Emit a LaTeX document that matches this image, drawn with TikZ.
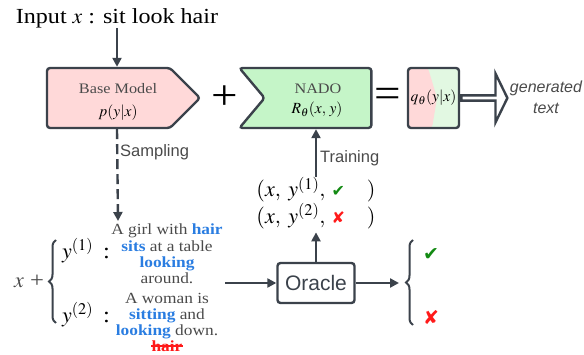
\documentclass[tikz,border=0pt]{standalone}
\usepackage{mathptmx}
\usepackage{fontspec}
\setmainfont[FakeStretch=1.12]{Liberation Serif}
\setsansfont{Liberation Sans}
\newfontfamily\marksfont{DejaVu Sans}
\usetikzlibrary{arrows.meta,positioning,shapes.symbols,shapes.arrows,decorations.pathreplacing}

\definecolor{linegray}{HTML}{3B424B}
\definecolor{textgray}{HTML}{4A4A4A}
\definecolor{basepink}{HTML}{FFD9D9}
\definecolor{nadogreen}{HTML}{C5F5C8}
\definecolor{qgreen}{HTML}{E2F8E2}
\definecolor{wordblue}{HTML}{2A7DE1}
\definecolor{okgreen}{HTML}{138A13}
\definecolor{badred}{HTML}{FF1A1A}

\newcommand{\hlword}[1]{\textbf{\color{wordblue}#1}}

\begin{document}
\begin{tikzpicture}[%
      x=1pt, y=-1pt,
      every node/.style={inner sep=0pt, align=center},
      conn/.style={draw=linegray, line width=2.4pt,
                   -{Triangle[length=9pt,width=9pt]}},
      model/.style={shape=signal, draw=linegray, line width=2.4pt,
                    rounded corners=3pt, minimum height=60pt},
      modeltitle/.style={font={\fontsize{14.5}{16}\selectfont}, text=textgray},
      modelfn/.style={font={\fontsize{15.5}{17}\selectfont}},
      bigsym/.style={font={\fontsize{42}{42}\selectfont}},
      flowlabel/.style={anchor=west, font={\fontsize{16.5}{18}\sffamily},
                        text=textgray},
      sentence/.style={font={\fontsize{15.5}{16.3}\selectfont}, text=textgray},
      bigmath/.style={font={\fontsize{22}{25}\selectfont}},
      verdict/.style={font={\fontsize{19}{20}\marksfont}},
      sidebrace/.style={draw=linegray, line width=2pt,
                        decorate, decoration={brace, amplitude=7pt}}
    ]
    \useasboundingbox (0,0) rectangle (584,355);
    \node [font={\fontsize{21.5}{26}\selectfont}] (input) at (117,18)
     {Input $x$ : sit look hair};
    \node [model, fill=basepink, signal to=east, minimum width=153pt]
     (base) at (108.5,98) {};
    \node [modeltitle] (base title) at (118,89) {Base Model};
    \node [modelfn] (base fn) at (118,113) {$p(y|x)$};
    \node [bigsym] (plus) at (225,98) {+};
    \node [model, fill=nadogreen, signal from=west, signal to=nowhere,
           signal pointer angle=100, minimum width=132pt]
     (nado) at (318,98) {};
    \node [modeltitle] (nado title) at (318,89) {NADO};
    \node [modelfn] (nado fn) at (317,110) {$R_\theta(x,\, y)$};
    \node [bigsym] (equal) at (388,98) {=};
    \node [draw=linegray, line width=2.4pt, rounded corners=3pt,
           fill=qgreen, minimum width=51pt, minimum height=60pt,
           path picture={\fill[basepink]
             (path picture bounding box.north west)
             -- ([xshift=20pt]path picture bounding box.north west)
             -- ([xshift=29pt]path picture bounding box.west)
             -- ([xshift=24pt]path picture bounding box.south west)
             -- (path picture bounding box.south west) -- cycle;}]
     (q) at (433.5,98) {};
    \node [modelfn] (q fn) at (q.center) {$q_\theta(y|x)$};
    \node [shape=single arrow, draw=linegray, fill=white, line width=2.4pt,
           minimum height=46pt, minimum width=49pt,
           single arrow head extend=10pt, single arrow tip angle=128,
           anchor=tail] (out) at (q.east) {};
    \node [font={\fontsize{16}{21}\sffamily\itshape}, text=textgray]
     (generated) at (546,97) {generated\\text};

    \draw [conn] (input.south) -- (input.south |- base.north);
    \coordinate (sample end) at (118,221);
    \draw [conn, dash pattern=on 10pt off 5pt] (input.south |- base.south)
     -- (sample end);
    \node [flowlabel] (sampling) at (120,152) {Sampling};

    \node [bigmath, text=textgray] (x plus) at (29,281) {$x$ +};
    \draw [sidebrace] (56,323) -- (56,240);
    \node [bigmath] (y one) at (86,251) {$y^{(1)}$ \,:};
    \node [bigmath] (y two) at (86,315) {$y^{(2)}$ \,:};
    \node [sentence] (sent one) at (167,254)
     {A girl with \hlword{hair}\\\hlword{sits} at a table\\
      \hlword{looking}\\around.};
    \node [sentence] (sent two) at (167,316)
     {A woman is\\\hlword{sitting} and\\\hlword{looking} down.};
    \node [sentence, text=badred] (dropped) at (167,346) {\textbf{hair}};
    \draw [badred, line width=1.3pt] (dropped.west) -- (dropped.east);

    \node [draw=linegray, line width=2.4pt, rounded corners=3pt,
           minimum width=77pt, minimum height=40pt,
           font={\fontsize{21}{24}\sffamily}, text=linegray]
     (oracle) at (316,283) {Oracle};
    \coordinate (sample out) at (225,283);
    \draw [conn] (sample out) -- (oracle.west);
    \coordinate (verdict in) at (399,283);
    \draw [conn] (oracle.east) -- (verdict in);
    \draw [sidebrace] (413,325) -- (413,240);
    \node [verdict, text=okgreen] (ok) at (431,255) {✔};
    \node [verdict, text=badred] (bad) at (431,317) {✘};

    \node [bigmath, align=left] (pairs) at (316,203)
     {$(x,\; y^{(1)},$ {\marksfont\fontsize{16}{16}\selectfont\color{okgreen}✔}\quad$)$\\
      $(x,\; y^{(2)},$ {\marksfont\fontsize{16}{16}\selectfont\color{badred}✘}\quad$)$};
    \draw [conn, shorten >=3pt] (oracle.north) -- (pairs.south -| oracle.north);
    \draw [conn] (pairs.north) -- (pairs.north |- nado.south);
    \node [flowlabel] (training) at (320,158) {Training};
   \end{tikzpicture}
\end{document}
